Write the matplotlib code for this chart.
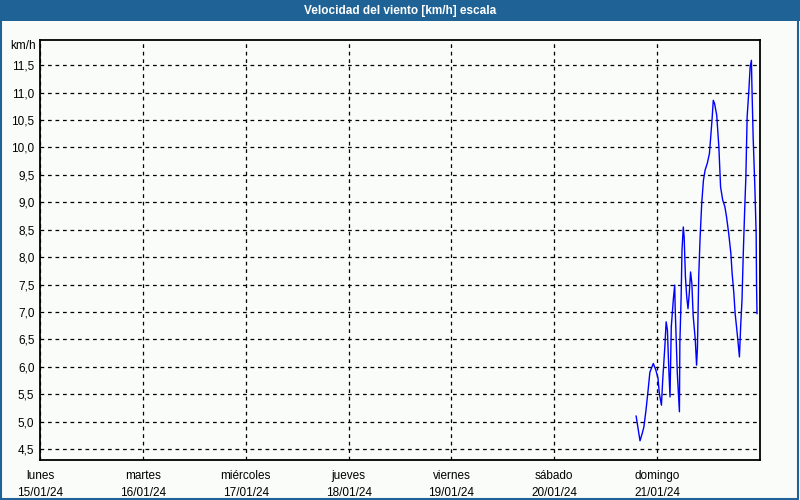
import matplotlib
matplotlib.use("Agg")
import matplotlib.pyplot as plt
from matplotlib.patches import Rectangle

# horas desde lunes 15/01/24 00:00
horas = [139.1, 140.0, 140.5, 140.9, 141.4, 141.9, 142.3, 143.1, 143.7, 144.2,
         144.5, 145.0, 145.3, 145.8, 146.1, 146.4, 146.7, 147.0, 147.3, 147.8,
         148.1, 148.2, 148.7, 149.2, 149.3, 149.6, 149.8, 150.1, 150.3, 150.6,
         150.9, 151.2, 151.5, 151.8, 152.1, 152.4, 152.9, 153.2, 153.4, 153.7,
         154.0, 154.4, 154.8, 155.2, 155.7, 156.2, 156.5, 156.8, 157.1, 157.4,
         157.9, 158.4, 158.8, 159.3, 159.8, 160.2, 160.7, 161.2, 161.5, 161.9,
         162.2, 162.6, 162.9, 163.2, 163.5, 163.8, 164.1, 164.4, 164.7, 165.0,
         165.4, 165.7, 166.0, 166.1, 166.4, 166.8, 167.1, 167.2, 167.3]
viento = [5.10, 4.65, 4.78, 4.90, 5.21, 5.58, 5.90, 6.06, 5.94, 5.79,
          5.52, 5.30, 5.76, 6.37, 6.82, 6.67, 6.00, 5.45, 6.73, 7.25,
          7.49, 7.09, 5.89, 5.18, 6.43, 7.28, 8.13, 8.55, 8.37, 7.64,
          7.28, 7.06, 7.34, 7.73, 7.52, 6.94, 6.49, 6.03, 6.34, 7.64,
          8.31, 8.98, 9.40, 9.59, 9.71, 9.89, 10.19, 10.50, 10.86, 10.80,
          10.59, 10.01, 9.28, 9.04, 8.92, 8.73, 8.43, 8.07, 7.70, 7.34,
          6.97, 6.67, 6.43, 6.18, 6.76, 7.22, 8.07, 8.80, 9.46, 10.56,
          11.04, 11.47, 11.59, 11.17, 10.19, 9.28, 8.43, 7.46, 6.97]

dias = ["lunes", "martes", "miércoles", "jueves", "viernes", "sábado", "domingo"]
fechas = ["15/01/24", "16/01/24", "17/01/24", "18/01/24", "19/01/24", "20/01/24", "21/01/24"]
y_ticks = [4.5, 5.0, 5.5, 6.0, 6.5, 7.0, 7.5, 8.0, 8.5, 9.0, 9.5, 10.0, 10.5, 11.0, 11.5]

AZUL = "#1f6396"
FONDO = "#fafcfa"
plt.rcParams["font.family"] = ["Liberation Sans", "DejaVu Sans"]

fig = plt.figure(figsize=(8, 5), dpi=100, facecolor=FONDO)

# barra de título y marco
fig.patches.append(Rectangle((0, 1 - 21 / 500), 1, 21 / 500, transform=fig.transFigure,
                             facecolor=AZUL, edgecolor="none", zorder=0))
fig.patches.append(Rectangle((0.001, 0.002), 0.997, 0.99, transform=fig.transFigure,
                             facecolor="none", edgecolor=AZUL, lw=1.5, zorder=0))
fig.text(0.5, 1 - 11 / 500, "Velocidad del viento [km/h] escala", color="white",
         ha="center", va="center", fontsize=8.5, fontweight="bold")

ax = fig.add_axes([40 / 800, 1 - 460 / 500, 720 / 800, 420 / 500])
ax.set_facecolor(FONDO)
ax.plot([h / 24 for h in horas], viento, color="#0000ff", lw=1)

ax.set_xlim(0, 7)
ax.set_ylim(4.3, 11.96)
ax.set_xticks(range(7))
ax.set_xticklabels([f"{d}\n{f}" for d, f in zip(dias, fechas)], fontsize=8.5, linespacing=1.6)
ax.set_yticks(y_ticks)
ax.set_yticklabels([f"{v:.1f}".replace(".", ",") for v in y_ticks], fontsize=8.5)
ax.tick_params(length=0, pad=4)
ax.tick_params(axis="x", pad=7)
ax.grid(True, color="black", ls=(0, (3, 3)), lw=0.9)
for s in ax.spines.values():
    s.set_linewidth(1.3)

fig.text(36 / 800, 1 - 46 / 500, "km/h", fontsize=8.5, va="center", ha="right")

fig.savefig("out.png", dpi=100, facecolor=FONDO)
